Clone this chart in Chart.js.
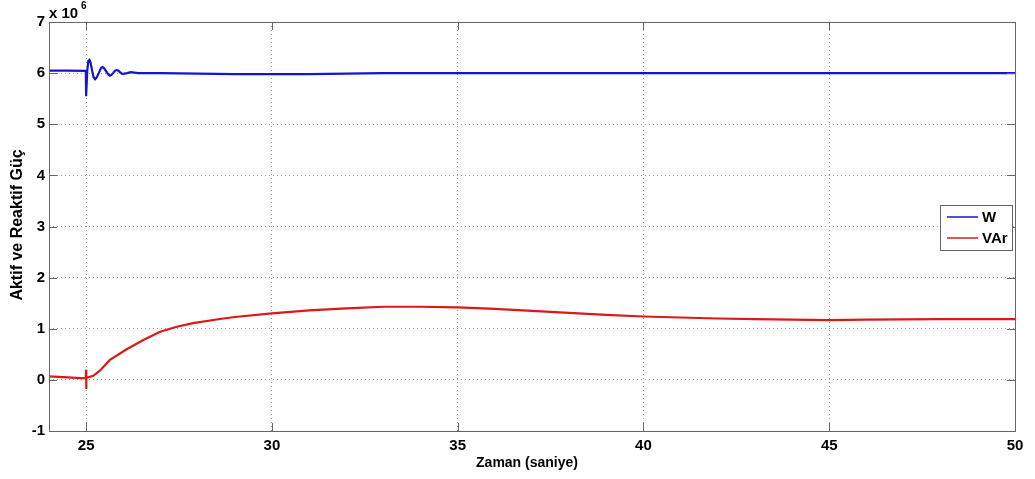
<!DOCTYPE html>
<html>
<head>
<meta charset="utf-8">
<script src="https://cdn.jsdelivr.net/npm/chart.js@4"></script>
<style>
  html, body { margin: 0; padding: 0; background: #fff; }
  #wrap { width: 1035px; height: 479px; }
</style>
</head>
<body>
<div id="wrap"><canvas id="powerChart" width="1035" height="479"></canvas></div>
<script>
// time (s) and power (x 10^6)
const wTime = [24, 24.5, 24.99, 25.0, 25.03, 25.06, 25.09, 25.12, 25.16, 25.2, 25.24, 25.28, 25.34, 25.4, 25.44, 25.48, 25.54, 25.6, 25.64, 25.68, 25.73, 25.78, 25.82, 25.86, 25.91, 25.96, 26.0, 26.1, 26.2, 26.4, 27, 28, 29, 30, 31, 32, 33, 35, 40, 45, 50];
const wValues = [6.05, 6.05, 6.045, 5.55, 6.05, 6.24, 6.26, 6.2, 6.05, 5.92, 5.88, 5.91, 6.0, 6.1, 6.12, 6.1, 6.035, 5.97, 5.95, 5.965, 6.005, 6.05, 6.06, 6.05, 6.02, 5.99, 5.985, 6.0, 6.02, 6.0, 6.0, 5.99, 5.98, 5.98, 5.98, 5.99, 6.0, 6.0, 6.0, 6.0, 6.0];

const varTime = [24, 24.5, 24.99, 25.0, 25.0, 25.01, 25.19, 25.37, 25.64, 26.09, 26.54, 26.99, 27.44, 27.88, 28.6, 29, 30, 31, 32, 33, 34, 35, 36, 37, 38, 39, 40, 41, 42, 43, 44, 45, 46, 48, 50];
const varValues = [0.07, 0.05, 0.03, 0.2, -0.18, 0.04, 0.08, 0.18, 0.39, 0.6, 0.78, 0.94, 1.04, 1.11, 1.19, 1.23, 1.3, 1.36, 1.4, 1.43, 1.43, 1.42, 1.39, 1.35, 1.31, 1.27, 1.24, 1.22, 1.2, 1.19, 1.18, 1.17, 1.18, 1.19, 1.19];

const xTicks = [25, 30, 35, 40, 45, 50];
const yTicks = [-1, 0, 1, 2, 3, 4, 5, 6, 7];
const seriesLabels = ['W', 'VAr'];
const seriesColors = ['#1414d2', '#dc1818'];

const tickFont = { family: "'Liberation Sans', Arial, sans-serif", size: 15, weight: 'bold' };

const toPoints = (xs, ys) => xs.map((x, i) => ({ x: x, y: ys[i] }));

// frame, inward ticks, exponent label, axis titles and legend, MATLAB style
const matlabDecor = {
  id: 'matlabDecor',
  afterDraw(chart) {
    const ctx = chart.ctx;
    const a = chart.chartArea;
    const xs = chart.scales.x, ys = chart.scales.y;
    ctx.save();
    ctx.strokeStyle = '#666';
    ctx.lineWidth = 1;
    ctx.strokeRect(Math.round(a.left) + 0.5, Math.round(a.top) + 0.5, Math.round(a.right - a.left), Math.round(a.bottom - a.top));

    ctx.beginPath();
    xTicks.forEach(v => {
      const px = Math.round(xs.getPixelForValue(v)) + 0.5;
      ctx.moveTo(px, a.bottom); ctx.lineTo(px, a.bottom - 8);
      ctx.moveTo(px, a.top); ctx.lineTo(px, a.top + 8);
    });
    yTicks.forEach(v => {
      const py = Math.round(ys.getPixelForValue(v)) + 0.5;
      ctx.moveTo(a.left, py); ctx.lineTo(a.left + 8, py);
      ctx.moveTo(a.right, py); ctx.lineTo(a.right - 8, py);
    });
    ctx.stroke();

    ctx.fillStyle = '#000';
    ctx.font = "bold 15px 'Liberation Sans', Arial, sans-serif";
    ctx.textBaseline = 'alphabetic';
    ctx.textAlign = 'left';
    ctx.fillText('x 10', 49, 18);
    ctx.font = "bold 10px 'Liberation Sans', Arial, sans-serif";
    ctx.fillText('6', 81, 9);

    ctx.font = "bold 14px 'Liberation Sans', Arial, sans-serif";
    ctx.textAlign = 'center';
    ctx.textBaseline = 'middle';
    ctx.fillText('Zaman (saniye)', 527, 463);
    ctx.save();
    ctx.translate(18, 225);
    ctx.rotate(-Math.PI / 2);
    ctx.font = "bold 16px 'Liberation Sans', Arial, sans-serif";
    ctx.fillText('Aktif ve Reaktif Güç', 0, 0);
    ctx.restore();

    // legend box
    const lx = 940, ly = 205, lw = 72, lh = 45;
    ctx.fillStyle = '#fff';
    ctx.fillRect(lx, ly, lw, lh);
    ctx.strokeStyle = '#666';
    ctx.strokeRect(lx + 0.5, ly + 0.5, lw, lh);
    ctx.font = "bold 15px 'Liberation Sans', Arial, sans-serif";
    ctx.textAlign = 'left';
    seriesLabels.forEach((lab, i) => {
      const y = ly + 12 + i * 21;
      ctx.strokeStyle = seriesColors[i];
      ctx.lineWidth = 1.5;
      ctx.beginPath();
      ctx.moveTo(lx + 7, y); ctx.lineTo(lx + 38, y);
      ctx.stroke();
      ctx.fillStyle = '#000';
      ctx.fillText(lab, lx + 42, y + 1);
    });
    ctx.restore();
  }
};

new Chart(document.getElementById('powerChart').getContext('2d'), {
  type: 'line',
  data: {
    datasets: [{
      label: seriesLabels[0],
      data: toPoints(wTime, wValues),
      borderColor: seriesColors[0],
      borderWidth: 2.2,
      pointRadius: 0,
      tension: 0
    }, {
      label: seriesLabels[1],
      data: toPoints(varTime, varValues),
      borderColor: seriesColors[1],
      borderWidth: 2.2,
      pointRadius: 0,
      tension: 0
    }]
  },
  options: {
    responsive: false,
    animation: false,
    layout: { padding: { top: 22, right: 20, left: 0, bottom: 0 } },
    plugins: { legend: { display: false }, tooltip: { enabled: false } },
    scales: {
      x: {
        type: 'linear',
        min: 24, max: 50,
        afterBuildTicks: s => { s.ticks = xTicks.map(v => ({ value: v })); },
        afterFit: s => { s.height = 48; },
        ticks: { color: '#000', font: tickFont, maxRotation: 0, padding: 6 },
        grid: { color: '#999', drawTicks: false, lineWidth: 1 },
        border: { display: false, dash: [1, 3] }
      },
      y: {
        type: 'linear',
        min: -1, max: 7,
        afterBuildTicks: s => { s.ticks = yTicks.map(v => ({ value: v })); },
        afterFit: s => { s.width = 49; },
        ticks: { color: '#000', font: tickFont, padding: 4 },
        grid: { color: '#999', drawTicks: false, lineWidth: 1 },
        border: { display: false, dash: [1, 3] }
      }
    }
  },
  plugins: [matlabDecor]
});
</script>
</body>
</html>
